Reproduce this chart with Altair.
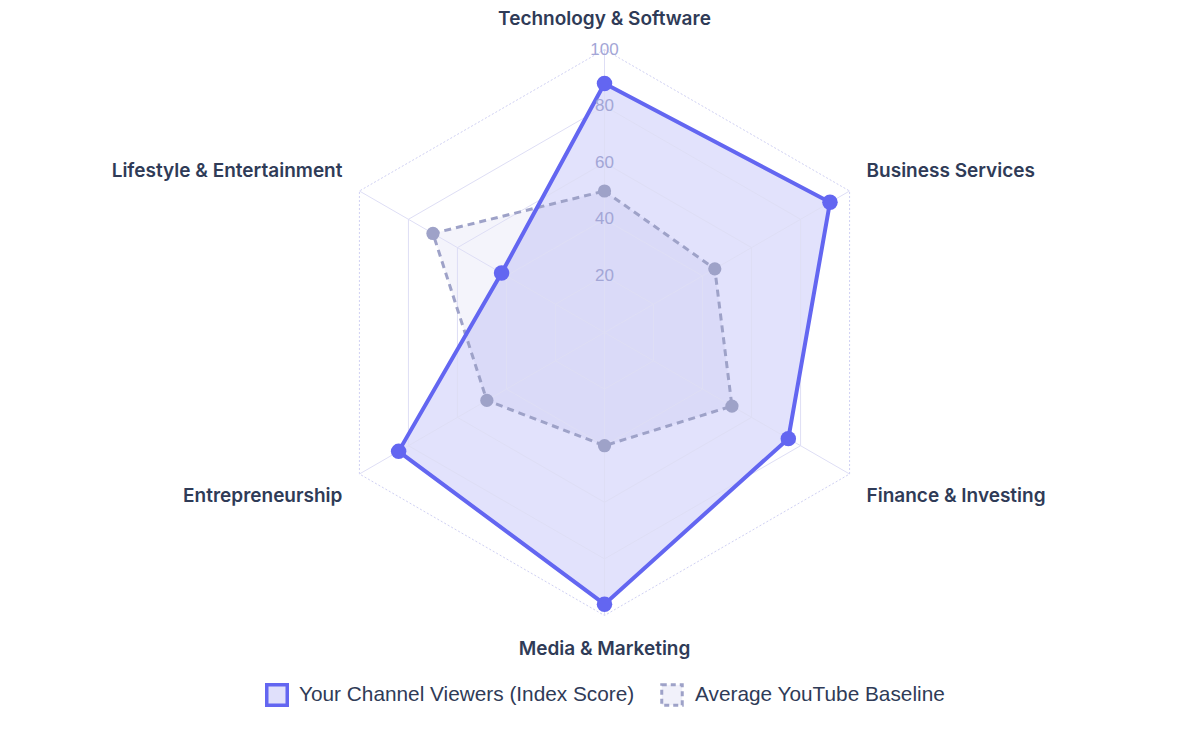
import altair as alt
import pandas as pd

# ---- data ----
categories = [
    "Technology & Software",
    "Business Services",
    "Finance & Investing",
    "Media & Marketing",
    "Entrepreneurship",
    "Lifestyle & Entertainment",
]
channel_scores = [88, 92, 75, 96, 84, 42]
baseline_scores = [50, 45, 52, 40, 48, 70]
ring_levels = [20, 40, 60, 80, 100]
tick_labels = ["20", "40", "60", "80", "100"]
series_names = ["Your Channel Viewers (Index Score)", "Average YouTube Baseline"]

# ---- geometry of the view (pixel layout) ----
W, H = 1200, 729
PX = 2.83          # pixels per index unit
CX, CY = 604.5, 332.5
xdom = [-CX / PX, (W - CX) / PX]
ydom = [-(H - CY) / PX, CY / PX]

MAIN = "#6366f1"
BASE = "#9ea2c8"
GRID = "#dedef5"
LABEL = "#2f3b57"

n = len(categories)

main_df = pd.DataFrame({"idx": list(range(n)), "value": channel_scores, "category": categories})
base_df = pd.DataFrame({"idx": list(range(n)), "value": baseline_scores, "category": categories})
rings_df = pd.DataFrame(
    [{"level": lv, "idx": i, "value": lv} for lv in ring_levels for i in range(n)]
)
spokes_df = pd.DataFrame(
    [{"idx": i, "value": v} for i in range(n) for v in (0, 100)]
)
ticks_df = pd.DataFrame({"idx": [0] * len(ring_levels), "value": ring_levels, "label": tick_labels})
labels_df = pd.DataFrame({"idx": list(range(n)), "value": [111] * n, "category": categories})

polar_x = "datum.value * sin(datum.idx * PI / 3)"
polar_y = "datum.value * cos(datum.idx * PI / 3)"

X = alt.X("x:Q", scale=alt.Scale(domain=xdom, nice=False, zero=False), axis=None)
Y = alt.Y("y:Q", scale=alt.Scale(domain=ydom, nice=False, zero=False), axis=None)


def base(df):
    return alt.Chart(df).transform_calculate(x=polar_x, y=polar_y)


inner_rings = base(rings_df).transform_filter("datum.level < 100").mark_line(
    interpolate="linear-closed", stroke=GRID, strokeWidth=1
).encode(x=X, y=Y, detail="level:N", order="idx:Q")

outer_ring = base(rings_df).transform_filter("datum.level == 100").mark_line(
    interpolate="linear-closed", stroke="#cfd0f3", strokeWidth=1, strokeDash=[2, 2]
).encode(x=X, y=Y, detail="level:N", order="idx:Q")

spokes = base(spokes_df).mark_line(stroke=GRID, strokeWidth=1).encode(
    x=X, y=Y, detail="idx:N", order="value:Q"
)

main_fill = base(main_df).mark_line(
    interpolate="linear-closed", fill=MAIN, fillOpacity=0.19, strokeWidth=0
).encode(x=X, y=Y, order="idx:Q")

base_fill = base(base_df).mark_line(
    interpolate="linear-closed", fill="#9598d8", fillOpacity=0.10, strokeWidth=0
).encode(x=X, y=Y, order="idx:Q")

base_line = base(base_df).mark_line(
    interpolate="linear-closed", stroke=BASE, strokeWidth=3, strokeDash=[7, 5]
).encode(x=X, y=Y, order="idx:Q")

main_line = base(main_df).mark_line(
    interpolate="linear-closed", stroke=MAIN, strokeWidth=4
).encode(x=X, y=Y, order="idx:Q")

base_pts = base(base_df).mark_point(filled=True, fill=BASE, opacity=1, size=175).encode(x=X, y=Y)
main_pts = base(main_df).mark_point(filled=True, fill=MAIN, opacity=1, size=240).encode(x=X, y=Y)

tick_text = base(ticks_df).mark_text(
    font="Liberation Sans", fontSize=17, color="#a3a6d6", align="center", baseline="middle"
).encode(x=X, y=Y, text="label:N")


def cat_label(cond, align, dx, dy):
    return base(labels_df).transform_filter(cond).mark_text(
        font="Inter", fontSize=19, fontWeight=600, color=LABEL,
        align=align, baseline="middle", dx=dx, dy=dy
    ).encode(x=X, y=Y, text="category:N")


lab_top = cat_label("datum.idx == 0", "center", 0, 1)
lab_bottom = cat_label("datum.idx == 3", "center", 0, 2)
lab_ur = cat_label("datum.idx == 1", "left", -10, -4)
lab_lr = cat_label("datum.idx == 2", "left", -10, 6)
lab_ll = cat_label("datum.idx == 4", "right", 10, 6)
lab_ul = cat_label("datum.idx == 5", "right", 10, -4)

legend_df = pd.DataFrame({"series": series_names, "k": [0, 1]})

leg_sw1 = alt.Chart(legend_df).transform_filter("datum.k == 0").mark_point(
    shape="square", size=420, filled=False, fill="#e0e0fb", fillOpacity=1, stroke=MAIN,
    strokeWidth=3.5, opacity=1
).encode(x=alt.value(277), y=alt.value(695))
leg_sw2 = alt.Chart(legend_df).transform_filter("datum.k == 1").mark_point(
    shape="square", size=420, filled=False, fill="#f1f1fa", fillOpacity=1, stroke=BASE,
    strokeWidth=3, strokeDash=[5, 4], opacity=1
).encode(x=alt.value(672), y=alt.value(695))
leg_t1 = alt.Chart(legend_df).transform_filter("datum.k == 0").mark_text(
    font="Liberation Sans", fontSize=20.8, color=LABEL, align="left", baseline="middle"
).encode(x=alt.value(299), y=alt.value(695), text="series:N")
leg_t2 = alt.Chart(legend_df).transform_filter("datum.k == 1").mark_text(
    font="Liberation Sans", fontSize=20.8, color=LABEL, align="left", baseline="middle"
).encode(x=alt.value(695), y=alt.value(695), text="series:N")

chart = alt.layer(
    main_fill, base_fill, inner_rings, outer_ring, spokes, base_line, main_line,
    base_pts, main_pts, tick_text,
    lab_top, lab_bottom, lab_ur, lab_lr, lab_ll, lab_ul,
    leg_sw1, leg_sw2, leg_t1, leg_t2,
).properties(
    width=W, height=H, autosize="none", padding=0
).configure_view(stroke=None)

chart.save("out.html", embed_options={"renderer": "svg", "actions": False})
